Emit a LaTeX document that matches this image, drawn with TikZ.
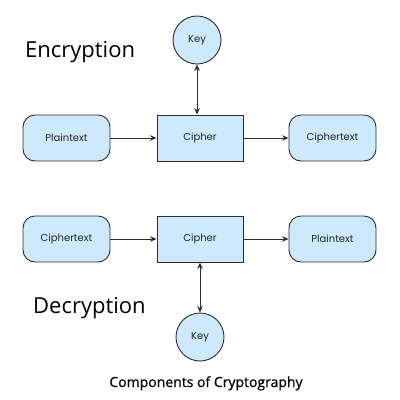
\documentclass[tikz,border=0pt]{standalone}
\usepackage{fontspec}
\setmainfont{Open Sans}
\newfontfamily\boxfont{Poppins}
\newfontfamily\capfont[FakeBold=0.7]{Open Sans}
\usetikzlibrary{arrows.meta}
\definecolor{boxfill}{RGB}{205,233,251}
\definecolor{boxline}{RGB}{45,45,45}
\tikzset{
  every picture/.style={x=1pt,y=-1pt},
  lbl/.style={font=\boxfont\fontsize{10}{12}\selectfont, text=black!85},
  rbox/.style={lbl, draw=boxline, fill=boxfill, line width=0.9pt, rounded corners=12pt,
    minimum width=87pt, minimum height=46pt, inner sep=0pt},
  cbox/.style={lbl, draw=boxline, fill=boxfill, line width=0.9pt,
    minimum width=86pt, minimum height=46pt, inner sep=0pt},
  keyc/.style={lbl, circle, draw=boxline, fill=boxfill, line width=0.9pt, minimum size=48pt, inner sep=0pt},
  conn/.style={line width=0.9pt, draw=boxline, -{Stealth[length=6.5pt,width=5.5pt]}},
  dconn/.style={line width=0.9pt, draw=boxline, {Stealth[length=6.5pt,width=5.5pt]}-{Stealth[length=6.5pt,width=5.5pt]}},
  title/.style={anchor=base west, inner sep=0pt, font=\fontsize{22}{26}\selectfont},
  caption/.style={anchor=base, inner sep=0pt, font=\capfont\fontsize{14}{16}\selectfont}
}
\begin{document}
\begin{tikzpicture}
\useasboundingbox[fill=white] (0,0) rectangle (400,400);
% Encryption
\node[title] (enc) at (25,57) {Encryption};
\node[keyc] (key1) at (197,40) {Key};
\node[rbox] (pt1) at (66.5,138) {Plaintext};
\node[cbox] (ci1) at (200,138) {Cipher};
\node[rbox] (ct1) at (332.5,138) {Ciphertext};
\draw[conn] (pt1) -- (ci1);
\draw[conn] (ci1) -- (ct1);
\draw[dconn] (key1.south) -- (key1.south |- ci1.north);
% Decryption
\node[title] (dec) at (33,313) {Decryption};
\node[rbox] (ct2) at (66.5,239) {Ciphertext};
\node[cbox] (ci2) at (200,239) {Cipher};
\node[rbox] (pt2) at (332.5,239) {Plaintext};
\node[keyc] (key2) at (200,337) {Key};
\draw[conn] (ct2) -- (ci2);
\draw[conn] (ci2) -- (pt2);
\draw[dconn] (ci2) -- (key2);
% caption
\node[caption] (cap) at (206,387) {Components of Cryptography};
\end{tikzpicture}
\end{document}
